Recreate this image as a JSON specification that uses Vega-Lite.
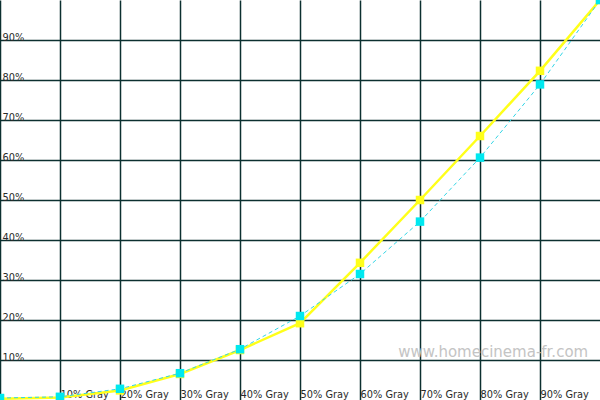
{
  "$schema": "https://vega.github.io/schema/vega-lite/v6.json",
  "width": 600,
  "height": 400,
  "padding": 0,
  "autosize": "none",
  "background": "white",
  "config": {"view": {"stroke": null}},
  "datasets": {
    "curves": [
      {"gray": 0, "series": "Mesure", "value": 0.3},
      {"gray": 10, "series": "Mesure", "value": 0.6},
      {"gray": 20, "series": "Mesure", "value": 2.4},
      {"gray": 30, "series": "Mesure", "value": 6.5},
      {"gray": 40, "series": "Mesure", "value": 12.5},
      {"gray": 50, "series": "Mesure", "value": 19.2},
      {"gray": 60, "series": "Mesure", "value": 34.3},
      {"gray": 70, "series": "Mesure", "value": 50.0},
      {"gray": 80, "series": "Mesure", "value": 66.0},
      {"gray": 90, "series": "Mesure", "value": 82.3},
      {"gray": 100, "series": "Mesure", "value": 100.0},
      {"gray": 0, "series": "Reference", "value": 0.5},
      {"gray": 10, "series": "Reference", "value": 0.8},
      {"gray": 20, "series": "Reference", "value": 2.8},
      {"gray": 30, "series": "Reference", "value": 6.7},
      {"gray": 40, "series": "Reference", "value": 12.7},
      {"gray": 50, "series": "Reference", "value": 21.0},
      {"gray": 60, "series": "Reference", "value": 31.5},
      {"gray": 70, "series": "Reference", "value": 44.6},
      {"gray": 80, "series": "Reference", "value": 60.6},
      {"gray": 90, "series": "Reference", "value": 78.9},
      {"gray": 100, "series": "Reference", "value": 100.0}
    ],
    "watermark": [
      {"gray": 82.2, "value": 10.7, "label": "www.homecinema-fr.com"}
    ]
  },
  "layer": [
    {
      "data": {"name": "curves"},
      "transform": [{"filter": "datum.series === 'Mesure'"}],
      "mark": {"type": "line", "color": "#ffff1a", "strokeWidth": 2.5},
      "encoding": {
        "x": {
          "field": "gray", "type": "quantitative",
          "scale": {"domain": [0, 100], "nice": false, "zero": false},
          "axis": {
            "title": null, "domain": false, "ticks": false,
            "values": [0, 10, 20, 30, 40, 50, 60, 70, 80, 90],
            "labelExpr": "datum.value === 0 ? '' : datum.value + '% Gray'",
            "labelAlign": "left", "labelBaseline": "alphabetic",
            "labelPadding": -3, "labelDx": 3,
            "labelFont": "DejaVu Sans", "labelFontSize": 9.8, "labelColor": "#2a2a2a",
            "labelOverlap": false, "labelBound": false, "labelFlush": false,
            "grid": true, "gridColor": "#0c3030", "gridWidth": 1.5, "gridOpacity": 1
          }
        },
        "y": {
          "field": "value", "type": "quantitative",
          "scale": {"domain": [0, 100], "nice": false, "zero": false},
          "axis": {
            "title": null, "domain": false, "ticks": false,
            "values": [10, 20, 30, 40, 50, 60, 70, 80, 90],
            "labelExpr": "datum.value + '%'",
            "labelAlign": "left", "labelBaseline": "alphabetic",
            "labelPadding": -2, "labelDy": -4,
            "labelFont": "DejaVu Sans", "labelFontSize": 9.8, "labelColor": "#2a2a2a",
            "labelOverlap": false, "labelBound": false, "labelFlush": false,
            "grid": true, "gridColor": "#0c3030", "gridWidth": 1.5, "gridOpacity": 1
          }
        }
      }
    },
    {
      "data": {"name": "curves"},
      "transform": [{"filter": "datum.series === 'Mesure'"}],
      "mark": {"type": "point", "shape": "square", "filled": true, "color": "#ffff1a", "opacity": 1, "size": 72},
      "encoding": {
        "x": {"field": "gray", "type": "quantitative"},
        "y": {"field": "value", "type": "quantitative"}
      }
    },
    {
      "data": {"name": "curves"},
      "transform": [{"filter": "datum.series === 'Reference'"}],
      "mark": {"type": "line", "color": "#33d6e6", "strokeWidth": 1, "strokeDash": [4, 3]},
      "encoding": {
        "x": {"field": "gray", "type": "quantitative"},
        "y": {"field": "value", "type": "quantitative"}
      }
    },
    {
      "data": {"name": "curves"},
      "transform": [{"filter": "datum.series === 'Reference'"}],
      "mark": {"type": "point", "shape": "square", "filled": true, "color": "#00e8f0", "opacity": 1, "size": 72},
      "encoding": {
        "x": {"field": "gray", "type": "quantitative"},
        "y": {"field": "value", "type": "quantitative"}
      }
    },
    {
      "data": {"name": "watermark"},
      "mark": {"type": "text", "font": "DejaVu Sans", "fontSize": 15, "color": "#c4c4c4", "align": "center", "baseline": "alphabetic"},
      "encoding": {
        "x": {"field": "gray", "type": "quantitative"},
        "y": {"field": "value", "type": "quantitative"},
        "text": {"field": "label"}
      }
    }
  ]
}
